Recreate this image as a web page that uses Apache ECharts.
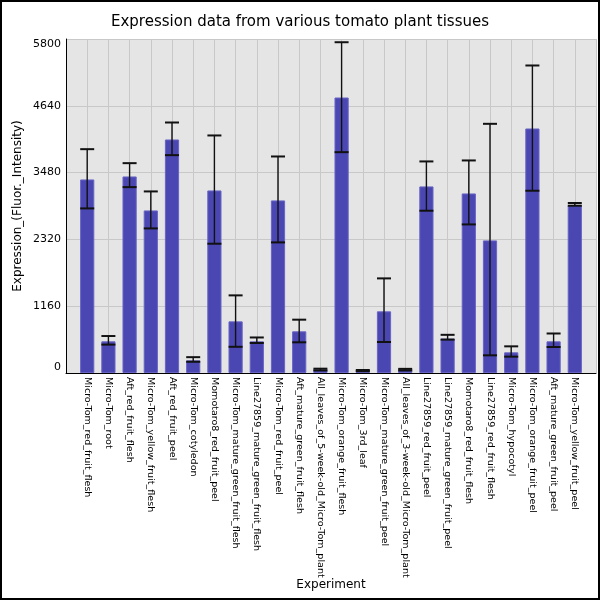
<!DOCTYPE html>
<html>
<head>
<meta charset="utf-8">
<script src="https://cdn.jsdelivr.net/npm/echarts@6/dist/echarts.min.js"></script>
<style>
html,body{margin:0;padding:0;background:#fff;}
#chart{width:600px;height:600px;}
</style>
</head>
<body>
<div id="chart"></div>
<script>
const categories = [
  'Micro-Tom_red_fruit_flesh','Micro-Tom_root','Aft_red_fruit_flesh','Micro-Tom_yellow_fruit_flesh',
  'Aft_red_fruit_peel','Micro-Tom_cotyledon','Momotaro8_red_fruit_peel','Micro-Tom_mature_green_fruit_flesh',
  'Line27859_mature_green_fruit_flesh','Micro-Tom_red_fruit_peel','Aft_mature_green_fruit_flesh',
  'All_leaves_of_5-week-old_Micro-Tom_plant','Micro-Tom_orange_fruit_flesh','Micro-Tom_3rd_leaf',
  'Micro-Tom_mature_green_fruit_peel','All_leaves_of_3-week-old_Micro-Tom_plant','Line27859_red_fruit_peel',
  'Line27859_mature_green_fruit_peel','Momotaro8_red_fruit_flesh','Line27859_red_fruit_flesh',
  'Micro-Tom_hypocotyl','Micro-Tom_orange_fruit_peel','Aft_mature_green_fruit_peel','Micro-Tom_yellow_fruit_peel'
];
const means = [3361,550,3413,2823,4055,220,3170,897,550,2997,724,60,4784,42,1071,58,3240,597,3118,2303,359,4246,550,2915];
const errLow = [2858,493,3228,2511,3783,195,2245,455,521,2268,533,45,3835,32,538,45,2818,580,2580,307,284,3165,451,2905];
const errHigh = [3887,642,3644,3153,4350,275,4125,1348,617,3760,926,75,5744,52,1643,72,3674,663,3691,4327,463,5340,686,2952];
const yTicks = {min:0, max:5800, interval:1160};

const axisCats = [''].concat(categories, ['']);
const font = 'DejaVu Sans';

const chart = echarts.init(document.getElementById('chart'));
chart.setOption({
  animation:false,
  backgroundColor:'#fff',
  title:{
    text:'Expression data from various tomato plant tissues',
    left:'center', top:10,
    textStyle:{fontFamily:font, fontSize:15, fontWeight:'normal', color:'#000'}
  },
  graphic:[{type:'rect', shape:{x:1,y:1,width:598,height:598}, style:{fill:'none', stroke:'#000', lineWidth:2}, z:100}],
  grid:{left:66, right:4, top:39, bottom:227, show:true, backgroundColor:'#e5e5e5', borderWidth:0,
    containLabel:false, outerBoundsMode:'none'},
  xAxis:{
    type:'category', data:axisCats, boundaryGap:false,
    name:'Experiment', nameLocation:'middle', nameGap:206, nameMoveOverlap:false,
    nameTextStyle:{fontFamily:font, fontSize:12, color:'#000'},
    axisLine:{show:true, lineStyle:{color:'#000', width:1}},
    axisTick:{show:false},
    splitLine:{show:true, lineStyle:{color:'#c8c8c8', width:1}},
    axisLabel:{interval:0, rotate:-90, fontFamily:font, fontSize:9.55, color:'#000', margin:4}
  },
  yAxis:{
    type:'value', min:yTicks.min, max:yTicks.max, interval:yTicks.interval,
    name:'Expression_(Fluor._Intensity)', nameLocation:'middle', nameGap:42, nameMoveOverlap:false,
    nameTextStyle:{fontFamily:font, fontSize:12, color:'#000'},
    axisLine:{show:true, lineStyle:{color:'#000', width:1}},
    axisTick:{show:false},
    splitLine:{show:true, lineStyle:{color:'#c8c8c8', width:1}},
    axisLabel:{fontFamily:font, fontSize:11, color:'#000', margin:5,
      formatter:function(v){return String(v);},
      verticalAlignMinLabel:'bottom', verticalAlignMaxLabel:'top'}
  },
  series:[
    {
      type:'bar', barWidth:'67%',
      data: means.map((v,i)=>[i+1, v]),
      itemStyle:{color:'#4a46b2', borderColor:'#6864c4', borderWidth:1},
      z:2
    },
    {
      type:'custom',
      data: means.map((v,i)=>[i+1, errLow[i], errHigh[i]]),
      renderItem:function(params, api){
        const x = api.value(0);
        const lo = api.coord([x, api.value(1)]);
        const hi = api.coord([x, api.value(2)]);
        const w = api.size([1,0])[0]*0.66;
        const st = {stroke:'#111', lineWidth:1.4};
        const cap = {stroke:'#111', lineWidth:2};
        return {type:'group', children:[
          {type:'line', shape:{x1:hi[0], y1:hi[1], x2:lo[0], y2:lo[1]}, style:st},
          {type:'line', shape:{x1:hi[0]-w/2, y1:hi[1], x2:hi[0]+w/2, y2:hi[1]}, style:cap},
          {type:'line', shape:{x1:lo[0]-w/2, y1:lo[1], x2:lo[0]+w/2, y2:lo[1]}, style:cap}
        ]};
      },
      z:3
    }
  ]
});
</script>
</body>
</html>
